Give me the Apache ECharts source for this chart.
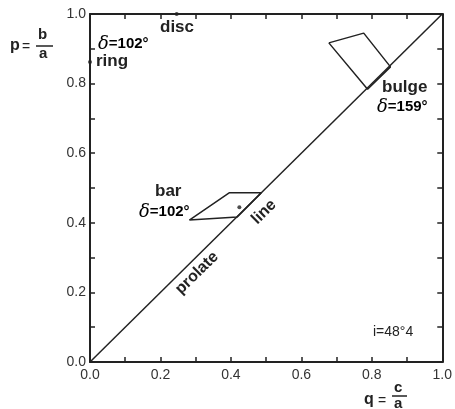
<!DOCTYPE html>
<html><head><meta charset="utf-8">
<script src="https://cdn.jsdelivr.net/npm/echarts@6/dist/echarts.min.js"></script>
<style>html,body{margin:0;padding:0;background:#fff}#c{width:455px;height:409px}</style>
</head><body><div id="c"></div>
<script>
var xTicks = [0.0, 0.2, 0.4, 0.6, 0.8, 1.0];
var yTicks = [0.0, 0.2, 0.4, 0.6, 0.8, 1.0];
var prolateLine = [[0, 0], [1, 1]];
var bulgeQ = [0.678, 0.777, 0.853, 0.788, 0.678];
var bulgeP = [0.917, 0.945, 0.848, 0.784, 0.917];
var barQ = [0.282, 0.395, 0.486, 0.418, 0.282];
var barP = [0.408, 0.486, 0.486, 0.417, 0.408];
var markerQ = [0.424, 0.0, 0.246];
var markerP = [0.445, 0.862, 1.0];

var FONT = '"Liberation Sans", Arial, sans-serif';
var C = '#222';
function zip(a, b) { return a.map(function (v, i) { return [v, b[i]]; }); }
function fmt(v) {
  var r = Math.round(v * 10);
  return (r % 2 === 0) ? v.toFixed(1) : '';
}
var chart = echarts.init(document.getElementById('c'));
var axisCommon = {
  type: 'value', min: 0, max: 1, interval: 0.1,
  axisLine: { show: true, onZero: false, lineStyle: { color: C, width: 2 } },
  axisTick: { show: true, inside: true, length: 5, lineStyle: { color: C, width: 1.5 } },
  splitLine: { show: false }
};
function delta(t) {
  return {
    text: '{d|δ}{n|' + t + '}',
    rich: {
      d: { fontStyle: 'italic', fontSize: 18, fontFamily: '"DejaVu Serif", serif', color: C },
      n: { fontSize: 15, fontFamily: FONT, color: C, fontWeight: 'bold' }
    }
  };
}
chart.setOption({
  animation: false,
  grid: { left: 90, right: 11, top: 14, bottom: 47 },
  xAxis: [
    Object.assign({}, axisCommon, { position: 'bottom',
      axisLabel: { color: '#333', fontSize: 14, fontFamily: FONT, margin: 6, formatter: fmt } }),
    Object.assign({}, axisCommon, { position: 'top', axisLabel: { show: false } })
  ],
  yAxis: [
    Object.assign({}, axisCommon, { position: 'left',
      axisLabel: { color: '#333', fontSize: 14, fontFamily: FONT, margin: 4, formatter: fmt } }),
    Object.assign({}, axisCommon, { position: 'right', axisLabel: { show: false } })
  ],
  series: [
    { type: 'line', data: prolateLine, symbol: 'none', lineStyle: { color: C, width: 1.5 } },
    { type: 'line', data: zip(bulgeQ, bulgeP), symbol: 'none', lineStyle: { color: C, width: 1.5 } },
    { type: 'line', data: zip(barQ, barP), symbol: 'none', lineStyle: { color: C, width: 1.5 } },
    { type: 'scatter', data: zip(markerQ, markerP), symbol: 'circle', symbolSize: 4,
      itemStyle: { color: C }, clip: false }
  ],
  graphic: [
    { type: 'text', left: 10, top: 38, style: { text: 'p', font: 'bold 16px ' + FONT, fill: C } },
    { type: 'text', left: 22, top: 40, style: { text: '=', font: '14px ' + FONT, fill: C } },
    { type: 'text', left: 38, top: 27, style: { text: 'b', font: 'bold 15px ' + FONT, fill: C } },
    { type: 'line', shape: { x1: 36, y1: 46, x2: 53, y2: 46 }, style: { stroke: C, lineWidth: 1.5 } },
    { type: 'text', left: 39, top: 46, style: { text: 'a', font: 'bold 15px ' + FONT, fill: C } },
    { type: 'text', left: 160, top: 19, style: { text: 'disc', font: 'bold 17px ' + FONT, fill: C } },
    { type: 'text', left: 98, top: 35, style: delta('=102°') },
    { type: 'text', left: 96, top: 53, style: { text: 'ring', font: 'bold 17px ' + FONT, fill: C } },
    { type: 'text', left: 382, top: 79, style: { text: 'bulge', font: 'bold 17px ' + FONT, fill: C } },
    { type: 'text', left: 377, top: 98, style: delta('=159°') },
    { type: 'text', left: 155, top: 183, style: { text: 'bar', font: 'bold 17px ' + FONT, fill: C } },
    { type: 'text', left: 139, top: 203, style: delta('=102°') },
    { type: 'text', x: 197, y: 273, rotation: 0.777,
      style: { text: 'prolate', font: 'bold 16px ' + FONT, fill: C, align: 'center', verticalAlign: 'middle' } },
    { type: 'text', x: 264, y: 212, rotation: 0.777,
      style: { text: 'line', font: 'bold 16px ' + FONT, fill: C, align: 'center', verticalAlign: 'middle' } },
    { type: 'text', left: 373, top: 325, style: { text: 'i=48°4', font: '14px ' + FONT, fill: C } },
    { type: 'text', left: 364, top: 392, style: { text: 'q', font: 'bold 16px ' + FONT, fill: C } },
    { type: 'text', left: 378, top: 394, style: { text: '=', font: '14px ' + FONT, fill: C } },
    { type: 'text', left: 394, top: 380, style: { text: 'c', font: 'bold 15px ' + FONT, fill: C } },
    { type: 'line', shape: { x1: 392, y1: 396, x2: 407, y2: 396 }, style: { stroke: C, lineWidth: 1.5 } },
    { type: 'text', left: 394, top: 396, style: { text: 'a', font: 'bold 15px ' + FONT, fill: C } }
  ]
});
</script></body></html>
